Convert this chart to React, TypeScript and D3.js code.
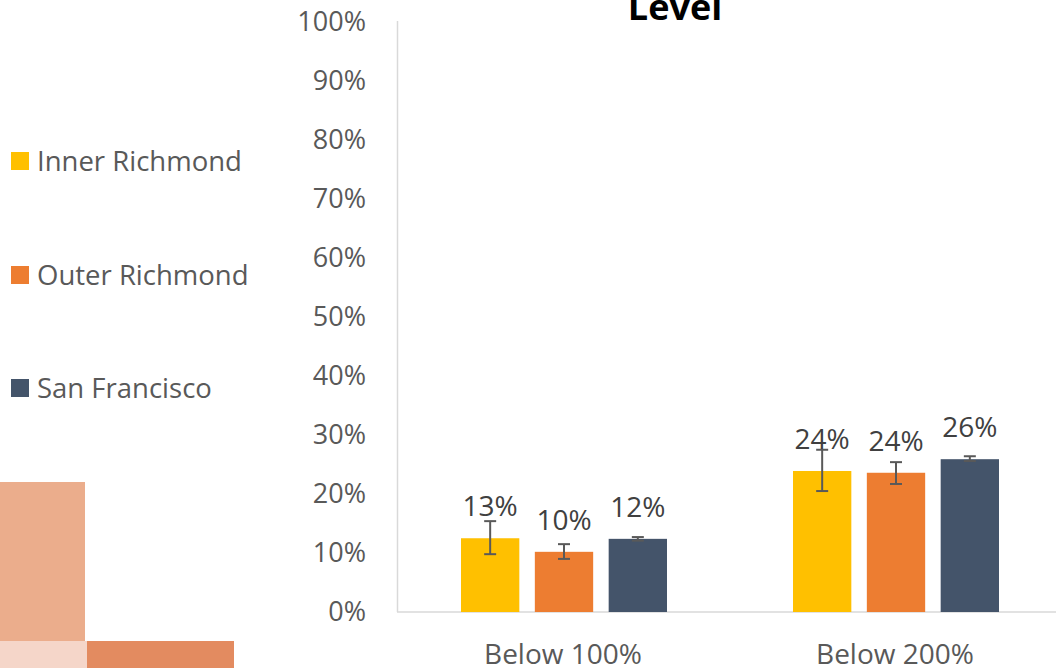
import React from 'react';
import * as d3 from 'd3';

const categories = ['Below 100%', 'Below 200%'];
const seriesNames = ['Inner Richmond', 'Outer Richmond', 'San Francisco'];
const seriesColors = ['#FFC000', '#ED7D31', '#44546A'];
const innerRichmond = [0.125, 0.239];
const outerRichmond = [0.102, 0.236];
const sanFrancisco = [0.124, 0.259];
const innerLow = [0.098, 0.205];
const innerHigh = [0.154, 0.275];
const outerLow = [0.090, 0.217];
const outerHigh = [0.115, 0.254];
const sfLow = [0.121, 0.256];
const sfHigh = [0.127, 0.264];
const valueLabels = [['13%', '24%'], ['10%', '24%'], ['12%', '26%']];
const yTicks = [0, 0.1, 0.2, 0.3, 0.4, 0.5, 0.6, 0.7, 0.8, 0.9, 1];

const values = [innerRichmond, outerRichmond, sanFrancisco];
const lows = [innerLow, outerLow, sfLow];
const highs = [innerHigh, outerHigh, sfHigh];

const W = 1056;
const H = 668;
const font = '"Open Sans", "Noto Sans", sans-serif';

export default function App() {
  const x0 = d3.scaleBand<string>().domain(categories).range([397, 1061]).paddingInner(0).paddingOuter(0);
  const x1 = d3.scaleBand<string>().domain(seriesNames).range([64, 270]).paddingInner(0.21);
  const y = d3.scaleLinear().domain([0, 1]).range([612, 22]);

  return (
    <svg width={W} height={H} style={{ position: 'absolute', left: 0, top: 0 }}>
      <rect x={0} y={0} width={W} height={H} fill="#fff" />
      {/* decorative blocks */}
      <rect x={0} y={482} width={85} height={159} fill="#EBAD8C" />
      <rect x={0} y={641} width={87} height={27} fill="#F5D6C9" />
      <rect x={87} y={641} width={147} height={27} fill="#E38B60" />

      <text x={675} y={20} textAnchor="middle" fontFamily={font} fontWeight="bold" fontSize={36} fill="#000">Level</text>

      {yTicks.map(t => (
        <text key={t} x={366} y={y(t)} dy="0.35em" textAnchor="end" fontFamily={font} fontSize={27} fill="#595959">
          {d3.format('.0%')(t)}
        </text>
      ))}
      <line x1={397.5} x2={397.5} y1={21} y2={612} stroke="#D9D9D9" strokeWidth={1.5} />
      <line x1={397} x2={W} y1={612} y2={612} stroke="#D9D9D9" strokeWidth={1.5} />

      {categories.map((c, ci) => (
        <g key={c} transform={`translate(${x0(c)},0)`}>
          {seriesNames.map((s, si) => {
            const bx = x1(s)!;
            const bw = x1.bandwidth();
            const v = values[si][ci];
            const cx = bx + bw / 2;
            return (
              <g key={s}>
                <rect x={bx} y={y(v)} width={bw} height={y(0) - y(v)} fill={seriesColors[si]} />
                <line x1={cx} x2={cx} y1={y(highs[si][ci])} y2={y(lows[si][ci])} stroke="#595959" strokeWidth={2} />
                <line x1={cx - 6} x2={cx + 6} y1={y(highs[si][ci])} y2={y(highs[si][ci])} stroke="#595959" strokeWidth={2} />
                <line x1={cx - 6} x2={cx + 6} y1={y(lows[si][ci])} y2={y(lows[si][ci])} stroke="#595959" strokeWidth={2} />
                <text x={cx} y={y(v) - 22} textAnchor="middle" fontFamily={font} fontSize={28} fill="#404040">
                  {valueLabels[si][ci]}
                </text>
              </g>
            );
          })}
          <text x={x0.bandwidth() / 2} y={664} textAnchor="middle" fontFamily={font} fontSize={28} fill="#595959">{c}</text>
        </g>
      ))}

      {seriesNames.map((s, i) => {
        const ly = [161, 275, 388][i];
        return (
          <g key={s}>
            <rect x={11} y={ly - 9} width={18} height={18} fill={seriesColors[i]} />
            <text x={37} y={ly} dy="0.35em" fontFamily={font} fontSize={27.5} fill="#595959">{s}</text>
          </g>
        );
      })}
    </svg>
  );
}
